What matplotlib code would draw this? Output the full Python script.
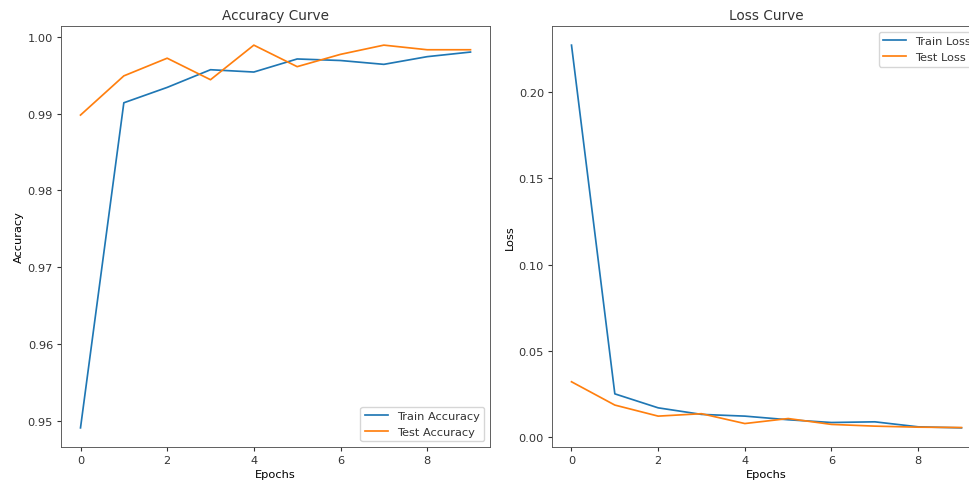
import numpy as np
import matplotlib
matplotlib.use("Agg")
import matplotlib.pyplot as plt

epochs = np.arange(10)
train_acc = [0.9491, 0.9914, 0.9934, 0.9957, 0.9954, 0.9971, 0.9969, 0.9964, 0.9974, 0.9980]
test_acc = [0.9898, 0.9949, 0.9972, 0.9944, 0.9989, 0.9961, 0.9977, 0.9989, 0.9983, 0.9983]
train_loss = [0.2271, 0.0251, 0.0170, 0.0132, 0.0122, 0.0101, 0.0085, 0.0089, 0.0060, 0.0054]
test_loss = [0.0321, 0.0186, 0.0122, 0.0136, 0.0079, 0.0108, 0.0074, 0.0064, 0.0058, 0.0056]

s = 0.82
plt.rcParams['font.size'] = 10 * s
plt.rcParams['lines.linewidth'] = 1.5 * s
plt.rcParams['axes.linewidth'] = 0.8 * s
plt.rcParams['xtick.major.size'] = 3.5 * s
plt.rcParams['ytick.major.size'] = 3.5 * s
plt.rcParams['xtick.major.pad'] = 3.5 * s
plt.rcParams['ytick.major.pad'] = 3.5 * s
plt.rcParams['axes.labelpad'] = 3
plt.rcParams['axes.titlepad'] = 5
plt.rcParams['text.color'] = '#333333'
plt.rcParams['xtick.color'] = '#333333'
plt.rcParams['ytick.color'] = '#333333'
plt.rcParams['axes.edgecolor'] = '#555555'

W, H = 970, 485
fig = plt.figure(figsize=(W / 100, H / 100), dpi=100)

ax1 = fig.add_axes([61 / W, (H - 448) / H, 429 / W, 421 / H])
ax1.plot(epochs, train_acc, label='Train Accuracy')
ax1.plot(epochs, test_acc, label='Test Accuracy')
ax1.set_title('Accuracy Curve', fontsize=12 * s)
ax1.set_xlabel('Epochs')
ax1.set_ylabel('Accuracy')
ax1.legend(loc='lower right')

ax2 = fig.add_axes([552 / W, (H - 448) / H, 429 / W, 421 / H])
ax2.plot(epochs, train_loss, label='Train Loss')
ax2.plot(epochs, test_loss, label='Test Loss')
ax2.set_title('Loss Curve', fontsize=12 * s)
ax2.set_xlabel('Epochs')
ax2.set_ylabel('Loss')
ax2.legend(loc='upper right')

fig.savefig('out.png', dpi=100)
